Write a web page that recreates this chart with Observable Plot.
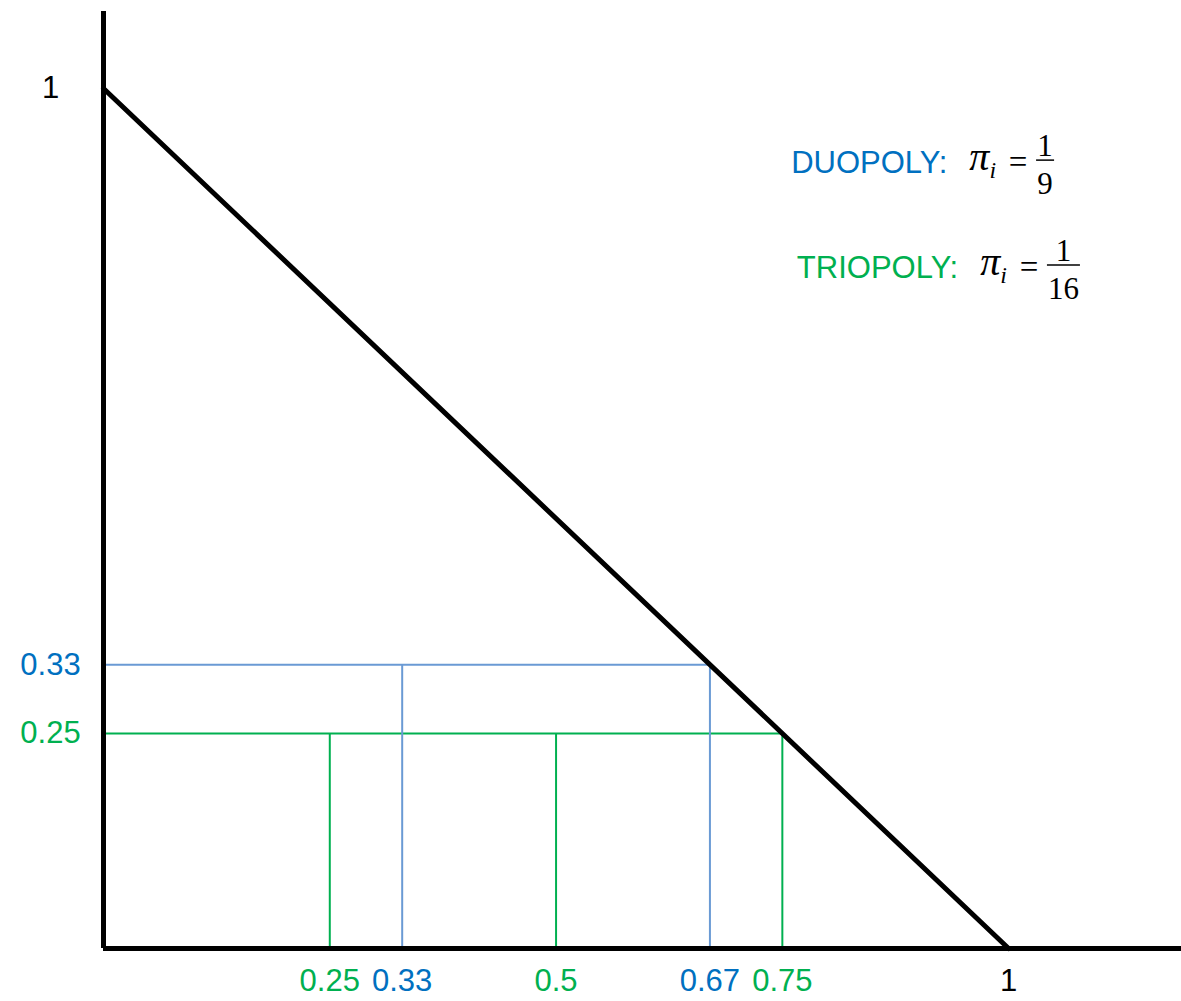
<!DOCTYPE html>
<html>
<head>
<meta charset="utf-8">
<script src="https://cdn.jsdelivr.net/npm/d3@7"></script>
<script src="https://cdn.jsdelivr.net/npm/@observablehq/plot@0.6"></script>
<style>
  html, body { margin: 0; padding: 0; background: #fff; }
</style>
</head>
<body>
<div id="chart"></div>
<script>
// Linear inverse demand P = 1 - Q
const demandQ = [0, 1];
const demandP = [1, 0];

// Cournot equilibria for two and three identical firms
const structures = ["DUOPOLY", "TRIOPOLY"];
const eqPrice = [0.33, 0.25];                       // equilibrium price
const cumOutput = [[0.33, 0.67], [0.25, 0.5, 0.75]]; // cumulative firm outputs
const profitNum = ["1", "1"];
const profitDen = ["9", "16"];

// Axis labels
const xTickValues = [0.25, 0.33, 0.5, 0.67, 0.75, 1];
const xTickLabels = ["0.25", "0.33", "0.5", "0.67", "0.75", "1"];
const xTickSeries = ["TRIOPOLY", "DUOPOLY", "TRIOPOLY", "DUOPOLY", "TRIOPOLY", "AXIS"];
const yTickValues = [1, 0.33, 0.25];
const yTickLabels = ["1", "0.33", "0.25"];
const yTickSeries = ["AXIS", "DUOPOLY", "TRIOPOLY"];

const textColor = { DUOPOLY: "#0070C0", TRIOPOLY: "#00B050", AXIS: "#000000" };
const guideColor = { DUOPOLY: "#6A9AD4", TRIOPOLY: "#00B050" };

const SANS = "'Liberation Sans', Arial, Helvetica, sans-serif";
const SERIF = "'Liberation Serif', 'Times New Roman', Times, serif";
const LABEL_SIZE = 31;

// Derived tables for the marks
const hGuides = structures.map((s, i) => ({ s, p: eqPrice[i], q: d3.max(cumOutput[i]) }));
const vGuides = structures.flatMap((s, i) => cumOutput[i].map(q => ({ s, p: eqPrice[i], q })));
const demand = demandQ.map((q, i) => ({ q, p: demandP[i] }));
const xTicks = xTickValues.map((v, i) => ({ v, label: xTickLabels[i], s: xTickSeries[i] }));
const yTicks = yTickValues.map((v, i) => ({ v, label: yTickLabels[i], s: yTickSeries[i] }));

// Profit per firm: "LABEL:  π_i = num/den", anchored at the centre of the "=" sign
function profitFormula(i, xAt, yAt) {
  return (index, scales) => {
    const s = structures[i];
    const X = scales.x(xAt), Y = scales.y(yAt);
    const g = d3.create("svg:g").attr("transform", `translate(${X},${Y})`);

    const head = g.append("text").attr("text-anchor", "end").attr("x", -22);
    head.append("tspan")
      .attr("font-family", SANS).attr("font-size", LABEL_SIZE).attr("fill", textColor[s])
      .text(s + ":");
    head.append("tspan")
      .attr("dx", 22).attr("dy", -3).attr("font-family", SERIF).attr("font-style", "italic")
      .attr("font-size", 40).attr("fill", "#000").text("π");
    head.append("tspan")
      .attr("dy", 8).attr("font-family", SERIF).attr("font-style", "italic")
      .attr("font-size", 24).attr("fill", "#000").text("i");

    g.append("text")
      .attr("text-anchor", "middle").attr("font-family", SERIF)
      .attr("font-size", 33).attr("fill", "#000").text("=");

    const den = profitDen[i];
    const w = den.length * 15 + 3;
    const left = 18;
    g.append("line")
      .attr("x1", left).attr("x2", left + w).attr("y1", -13).attr("y2", -13)
      .attr("stroke", "#000").attr("stroke-width", 1.5);
    g.append("text")
      .attr("x", left + w / 2).attr("y", -17).attr("text-anchor", "middle")
      .attr("font-family", SERIF).attr("font-size", 31).attr("fill", "#000")
      .text(profitNum[i]);
    g.append("text")
      .attr("x", left + w / 2).attr("y", 21).attr("text-anchor", "middle")
      .attr("font-family", SERIF).attr("font-size", 31).attr("fill", "#000")
      .text(den);
    return g.node();
  };
}

const chart = Plot.plot({
  width: 1181,
  height: 1001,
  marginLeft: 103,
  marginRight: 0,
  marginTop: 11,
  marginBottom: 53,
  x: { domain: [0, 1.191], axis: null },
  y: { domain: [0, 1.0895], axis: null },
  color: { type: "identity" },
  style: { fontFamily: SANS, fontSize: `${LABEL_SIZE}px`, background: "#fff", overflow: "visible" },
  marks: [
    // equilibrium price and output guides
    Plot.ruleY(hGuides, { y: "p", x1: () => 0, x2: "q", stroke: d => guideColor[d.s], strokeWidth: 2 }),
    Plot.ruleX(vGuides, { x: "q", y1: () => 0, y2: "p", stroke: d => guideColor[d.s], strokeWidth: 2 }),
    // demand curve
    Plot.line(demand, { x: "q", y: "p", stroke: "#000", strokeWidth: 5 }),
    // axes
    Plot.ruleX([0], { stroke: "#000", strokeWidth: 5 }),
    Plot.ruleY([0], { stroke: "#000", strokeWidth: 5 }),
    // tick labels
    Plot.text(xTicks, {
      x: "v", text: "label", fill: d => textColor[d.s],
      frameAnchor: "bottom", lineAnchor: "bottom", dy: 42, fontSize: LABEL_SIZE, textAnchor: "middle"
    }),
    Plot.text(yTicks, {
      y: "v", text: "label", fill: d => textColor[d.s],
      frameAnchor: "left", lineAnchor: "middle", dx: -53, fontSize: LABEL_SIZE, textAnchor: "middle"
    }),
    // per-firm profit annotations
    profitFormula(0, 1.011, 0.901),
    profitFormula(1, 1.023, 0.779)
  ]
});

document.getElementById("chart").appendChild(chart);
</script>
</body>
</html>
